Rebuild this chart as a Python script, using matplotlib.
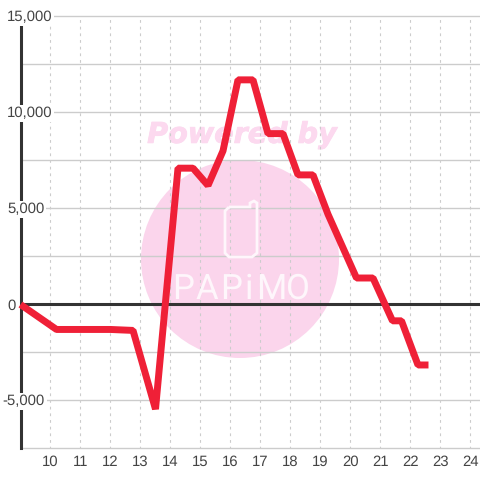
import matplotlib
matplotlib.use("Agg")
import matplotlib.pyplot as plt
import matplotlib.patheffects as pe
from matplotlib.patches import Circle, PathPatch
from matplotlib.path import Path
from matplotlib.transforms import blended_transform_factory, ScaledTranslation

plt.rcParams["text.hinting"] = "no_hinting"

hours = [9.0, 10.2, 11.5, 12.0, 12.75, 13.5, 14.25, 14.75, 15.25, 15.75, 16.25, 16.75,
         17.25, 17.75, 18.25, 18.75, 19.25, 20.2, 20.75, 21.4, 21.7, 22.25, 22.6]
values = [0, -1300, -1300, -1300, -1350, -5450, 7100, 7100, 6200, 8000, 11700, 11700,
          8900, 8900, 6750, 6750, 4700, 1380, 1380, -850, -850, -3150, -3150]
x_ticks = list(range(10, 25))
y_major = [15000, 10000, 5000, 0, -5000]
y_minor = [12500, 7500, 2500, -2500, -7500]
y_labels = ["15,000", "10,000", "5,000", "0", "-5,000"]
watermark = "Powered by"
logo_letters = ["P", "A", "P", "i", "M", "O"]

INK = "#444444"
GRID = "#cccccc"
PINK = "#fbd5ec"
LOGO = "#fef6fb"
FONT = "Liberation Sans"
FS = 10.7

fig = plt.figure(figsize=(4.8, 4.8), dpi=100, facecolor="white")
ax = fig.add_axes([20.5 / 480, 1 - 448.5 / 480, 459.5 / 480, 432 / 480])
ax.patch.set_visible(False)
ax.set_xlim(9, 24.317)
ax.set_ylim(-7500, 15000)

def fx(p): return p / 480
def fy(p): return 1 - p / 480

# watermark, in figure pixels
fig.add_artist(Circle((fx(240), fy(259)), 99 / 480, transform=fig.transFigure,
                      facecolor=PINK, edgecolor="none", zorder=-5))
fig.text(fx(242), fy(135), watermark, color="#fcd9ef", fontsize=20.6, fontweight="bold",
         fontstyle="italic", family="DejaVu Sans", ha="center", va="center", zorder=-4,
         path_effects=[pe.withStroke(linewidth=0.6, foreground="#fcd9ef")])

# grid
for v in y_major + y_minor:
    ax.axhline(v, color=GRID, lw=1.0, zorder=1, clip_on=False)
for h in x_ticks:
    ax.axvline(h, color=GRID, lw=0.8, ls=(0, (2.5, 3.5)), zorder=1)

# logo over grid
phone_pts = [(229, 207), (250, 207), (250, 203), (254, 201), (257, 203), (257, 253),
             (252, 257), (229, 257), (225, 253), (225, 211), (229, 207)]
phone = Path([(fx(a), fy(b)) for a, b in phone_pts])
fig.add_artist(PathPatch(phone, transform=fig.transFigure, facecolor="none",
                         edgecolor=LOGO, lw=2.0, zorder=2))
for ch, px in zip(logo_letters, [183, 207, 231, 249, 271, 298]):
    fig.text(fx(px), fy(289), ch, color=LOGO, fontsize=25, family="Roboto",
             ha="center", va="center", zorder=2)

# zero line and data
ax.axhline(0, color="#333333", lw=2.2, zorder=3)
ax.plot(hours, values, color="#ef2037", lw=5.0, solid_joinstyle="bevel",
        solid_capstyle="butt", zorder=4, clip_on=False)

for s in ["top", "right", "bottom"]:
    ax.spines[s].set_visible(False)
ax.spines["left"].set_color("#333333")
ax.spines["left"].set_linewidth(2.2)
ax.spines["left"].set_zorder(3)

ax.set_xticks(x_ticks)
ax.tick_params(axis="x", length=0, pad=4.5, labelsize=FS, labelcolor=INK)
for t in ax.get_xticklabels():
    t.set_fontfamily(FONT)
ax.set_yticks([])

trans = blended_transform_factory(fig.transFigure, ax.transData) + ScaledTranslation(0, -1 / 100, fig.dpi_scale_trans)
for v, lab in zip(y_major, y_labels):
    left = 2.7 if lab.startswith("-") else 7
    ax.text(fx(left), v, lab, transform=trans, color=INK, fontsize=FS, family=FONT,
            ha="left", va="center", clip_on=False, zorder=5,
            bbox=dict(facecolor="white", edgecolor="none", pad=1.3))

fig.savefig("out.png", dpi=100)
